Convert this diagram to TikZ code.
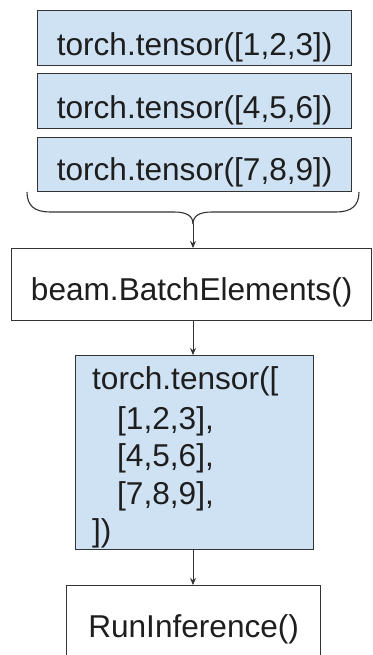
\documentclass[tikz,border=0pt]{standalone}
\usepackage{fontspec}
\setmainfont{Liberation Sans}
\usetikzlibrary{arrows.meta}
\definecolor{boxblue}{HTML}{CFE2F3}
\definecolor{edge}{HTML}{333333}
\definecolor{ink}{HTML}{1E1E1E}
\begin{document}
\begin{tikzpicture}[x=1pt,y=-1pt,
  every node/.style={font=\fontsize{31.6}{37.5}\selectfont, text=ink},
  box/.style={draw=edge, line width=1.3pt, anchor=north west, inner xsep=0pt, inner ysep=0pt},
  bluebox/.style={box, fill=boxblue},
  flow/.style={draw=edge, line width=0.9pt, -{Stealth[length=7pt,width=6pt]}},
  bracestyle/.style={draw=edge, line width=1.1pt}
]
\useasboundingbox (0,0) rectangle (372,655);
\clip (0,0) rectangle (372,655);
\fill[white] (0,0) rectangle (372,655);

% three input tensors
\node[bluebox, minimum width=314pt, text height=45pt, text depth=10pt] (t1) at (37,10) {torch.tensor([1,2,3])};
\node[bluebox, minimum width=314pt, text height=45pt, text depth=10pt] (t2) at (37,73) {torch.tensor([4,5,6])};
\node[bluebox, minimum width=314pt, text height=43pt, text depth=11pt] (t3) at (37,137) {torch.tensor([7,8,9])};

% curly brace
\coordinate (bl) at (27,192);
\coordinate (br) at (359,192);
\coordinate (tip) at (193,224);
\draw[bracestyle] (bl) .. controls (27,206) and (35,212) .. (50,212) -- (174,212)
  .. controls (187,212) and (193,216) .. (tip);
\draw[bracestyle] (br) .. controls (359,206) and (351,212) .. (336,212) -- (212,212)
  .. controls (199,212) and (193,216) .. (tip);

% BatchElements
\node[box, fill=white, minimum width=360pt, text height=52pt, text depth=20pt] (batch) at (11,248) {beam.BatchElements()};

% batched tensor
\node[bluebox, minimum width=238pt, minimum height=194pt] (bt) at (75,355) {};
\node[anchor=north west, inner sep=0pt, align=left] (bttext) at (92,366)
  {torch.tensor([\\[2.5pt]\hspace*{25pt}[1,2,3],\\\hspace*{25pt}[4,5,6],\\\hspace*{25pt}[7,8,9],\\])};

% RunInference
\node[box, fill=white, minimum width=254pt, text height=52pt, text depth=43pt] (run) at (66,585) {RunInference()};

% connectors
\draw[flow] (tip) -- (tip |- batch.north);
\draw[flow] (batch.south -| tip) -- (tip |- bt.north);
\draw[flow] (bt.south -| tip) -- (tip |- run.north);
\end{tikzpicture}
\end{document}
